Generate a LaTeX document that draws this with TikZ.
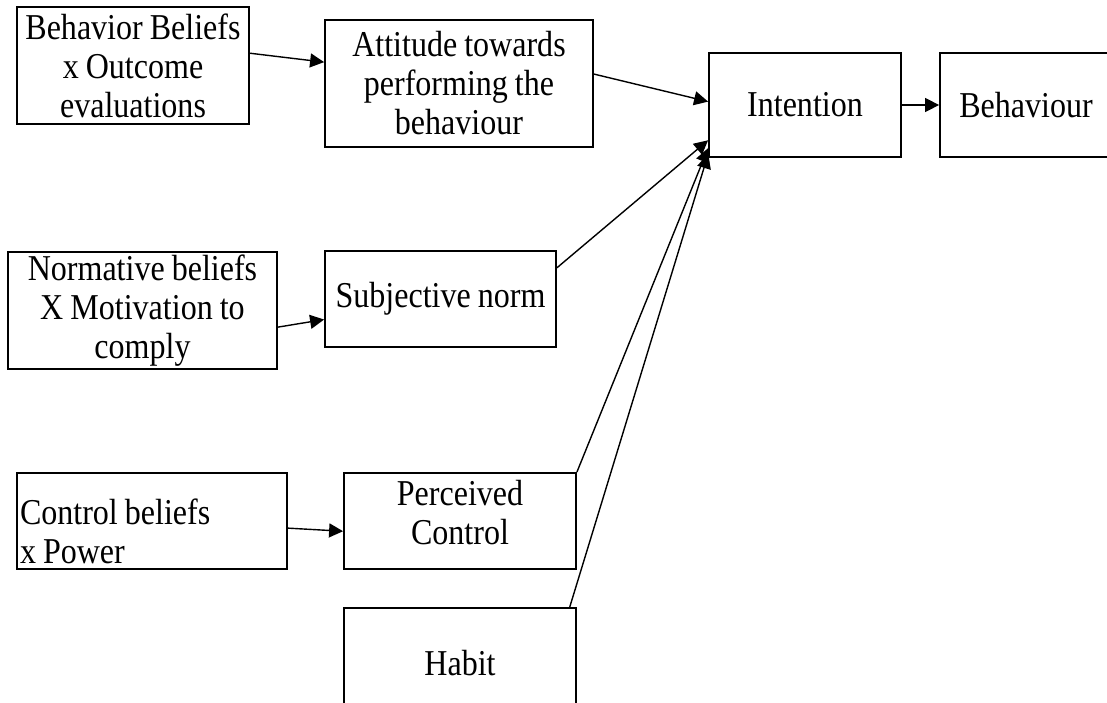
\documentclass[tikz,border=0pt]{standalone}
\usepackage{fontspec}
\setmainfont{Liberation Serif}[FakeStretch=0.88, WordSpace=0.88]
\usetikzlibrary{arrows.meta}

\begin{document}
\begin{tikzpicture}[
    x = 0.5pt, y = -0.5pt, % one unit per pixel, y downwards
    >= {Triangle[length=7pt,width=7pt]}, % arrow head style
    line width = 0.7pt % line style
  ]

  \tikzstyle{box}=[
      draw = black,
      rectangle,
      line width = 0.9pt,
      align = center,
      inner sep = 1.5pt,
      font = \fontsize{18.2}{19.5}\selectfont
  ]

\useasboundingbox (0,0) rectangle (1107,702);
\clip (0,0) rectangle (1107,702);

\node[box, minimum width=116pt, minimum height=58.5pt] (BB) at (133,65.5) {Behavior Beliefs\\x Outcome\\evaluations};
\node[box, minimum width=134pt, minimum height=63.5pt] (ATT) at (459,83.5) {Attitude towards\\performing the\\behaviour};
\node[box, minimum width=96pt, minimum height=52pt] (INT) at (805,105) {Intention};
\node[box, minimum width=86pt, minimum height=52pt] (BEH) at (1026,105) {Behaviour};
\node[box, minimum width=134.5pt, minimum height=56.5pt] (NB) at (142.5,310.5) {Normative beliefs\\X Motivation to\\comply};
\node[box, minimum width=115.5pt, minimum height=48pt] (SN) at (440.5,299) {Subjective norm};
\node[box, align=flush left, text width=132pt, minimum height=48pt, text depth=9pt] (CB) at (152,521) {Control beliefs\\x Power};
\node[box, minimum width=116pt, minimum height=48pt, text depth=9pt] (PC) at (460,521) {Perceived\\Control};
\node[box, minimum width=116pt, minimum height=55pt] (HB) at (460,663) {Habit};

 \path [->] (BB.6) edge (ATT.171);
 \path [->] (ATT.4) edge (INT.178);
 \path [->] (INT.east) edge (BEH.west);
 \path [->] (NB.-7) edge (SN.190);
 \path [->] (SN.15) edge (INT.200);
 \path [->] (CB.-3) edge (PC.185);
 \path [->] (PC.north east) edge (INT.204);
 \path [->] (HB.27) edge (INT.207);
\end{tikzpicture}
\end{document}
